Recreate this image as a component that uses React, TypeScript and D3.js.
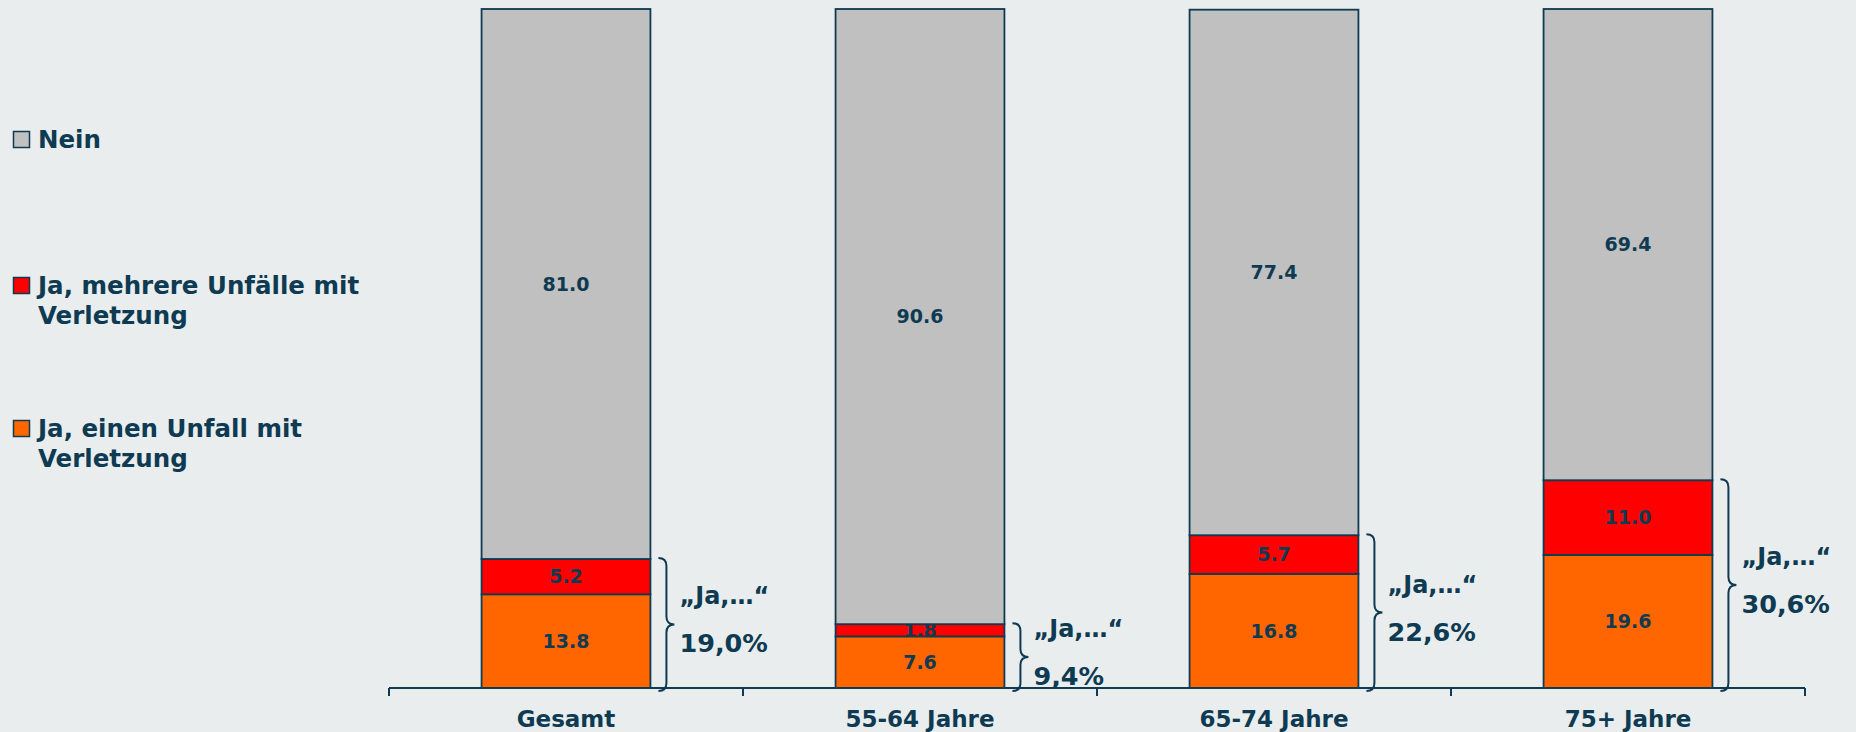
import * as d3 from "d3";

const categories = ["Gesamt", "55-64 Jahre", "65-74 Jahre", "75+ Jahre"];
const einenUnfall = [13.8, 7.6, 16.8, 19.6];
const mehrereUnfaelle = [5.2, 1.8, 5.7, 11.0];
const nein = [81.0, 90.6, 77.4, 69.4];
const jaTotals = ["19,0%", "9,4%", "22,6%", "30,6%"];

const seriesNames = ["Ja, einen Unfall mit Verletzung", "Ja, mehrere Unfälle mit Verletzung", "Nein"];
const seriesColors = ["#ff6600", "#ff0000", "#c0c0c0"];

const W = 1856;
const H = 732;
const INK = "#0e3a52";
const FONT = "'DejaVu Sans', Verdana, sans-serif";

function brace(x: number, y1: number, y2: number, w: number) {
  const r = 8;
  const mid = (y1 + y2) / 2;
  const xm = x + w / 2;
  const p = d3.path();
  p.moveTo(x, y1);
  p.quadraticCurveTo(xm, y1, xm, y1 + r);
  p.lineTo(xm, mid - r);
  p.quadraticCurveTo(xm, mid, x + w, mid);
  p.quadraticCurveTo(xm, mid, xm, mid + r);
  p.lineTo(xm, y2 - r);
  p.quadraticCurveTo(xm, y2, x, y2);
  return p.toString();
}

export default function App() {
  const x = d3.scaleBand<string>().domain(categories).range([389, 1805]).paddingInner(0.523).paddingOuter(0.2615);
  const bands = d3.scaleBand<string>().domain(categories).range([389, 1805]).padding(0);
  const y = d3.scaleLinear().domain([0, 100]).range([688, 9]);

  const rows = categories.map((c, i) => ({
    cat: c,
    values: [einenUnfall[i], mehrereUnfaelle[i], nein[i]],
  }));

  // legend: series listed top-down in reverse order
  const legendItems = [
    { name: "Nein", lines: ["Nein"], color: seriesColors[2], y: 148 },
    { name: seriesNames[1], lines: ["Ja, mehrere Unfälle mit", "Verletzung"], color: seriesColors[1], y: 294 },
    { name: seriesNames[0], lines: ["Ja, einen Unfall mit", "Verletzung"], color: seriesColors[0], y: 437 },
  ];

  const tickXs = [...categories.map((c) => bands(c) as number), bands.range()[1]];

  return (
    <svg width={W} height={H} style={{ position: "absolute", left: 0, top: 0 }} fontFamily={FONT}>
      <rect width={W} height={H} fill="#e9edee" />

      {/* legend */}
      {legendItems.map((l) => (
        <g key={l.name}>
          <rect x={13.5} y={l.y - 16.5} width={16} height={16} fill={l.color} stroke={INK} strokeWidth={1.5} />
          <text x={38} y={l.y} fontSize={24.5} fontWeight="bold" fill={INK}>
            {l.lines.map((t, k) => (
              <tspan key={k} x={38} dy={k === 0 ? 0 : 30}>
                {t}
              </tspan>
            ))}
          </text>
        </g>
      ))}

      {/* bars */}
      {rows.map((r) => {
        let acc = 0;
        return (
          <g key={r.cat}>
            {r.values.map((v, k) => {
              const y0 = acc;
              acc += v;
              const top = y(acc);
              const bot = y(y0);
              return (
                <g key={k}>
                  <rect
                    x={x(r.cat)}
                    y={top}
                    width={x.bandwidth()}
                    height={bot - top}
                    fill={seriesColors[k]}
                    stroke={INK}
                    strokeWidth={1.8}
                  />
                  <text
                    x={(x(r.cat) as number) + x.bandwidth() / 2}
                    y={(top + bot) / 2}
                    dy="0.36em"
                    textAnchor="middle"
                    fontSize={19}
                    fontWeight="bold"
                    fill={INK}
                  >
                    {v.toFixed(1)}
                  </text>
                </g>
              );
            })}
          </g>
        );
      })}

      {/* axis */}
      <line x1={tickXs[0]} x2={tickXs[tickXs.length - 1]} y1={y(0)} y2={y(0)} stroke={INK} strokeWidth={2} />
      {tickXs.map((tx, i) => (
        <line key={i} x1={tx} x2={tx} y1={y(0)} y2={y(0) + 8} stroke={INK} strokeWidth={2} />
      ))}
      {categories.map((c) => (
        <text
          key={c}
          x={(bands(c) as number) + bands.bandwidth() / 2}
          y={727}
          textAnchor="middle"
          fontSize={23}
          fontWeight="bold"
          fill={INK}
        >
          {c}
        </text>
      ))}

      {/* braces with "Ja" totals */}
      {rows.map((r, i) => {
        const total = r.values[0] + r.values[1];
        const bx = (x(r.cat) as number) + x.bandwidth() + 8;
        const y1 = y(total) - 1;
        const y2 = y(0) + 3;
        const mid = (y1 + y2) / 2;
        return (
          <g key={"b" + r.cat}>
            <path d={brace(bx, y1, y2, 16)} fill="none" stroke={INK} strokeWidth={2} />
            <text x={bx + 21} y={mid - 20} fontSize={24} fontWeight="bold" fill={INK}>
              „Ja,…“
            </text>
            <text x={bx + 21} y={mid + 28} fontSize={25.5} fontWeight="bold" fill={INK}>
              {jaTotals[i]}
            </text>
          </g>
        );
      })}
    </svg>
  );
}
